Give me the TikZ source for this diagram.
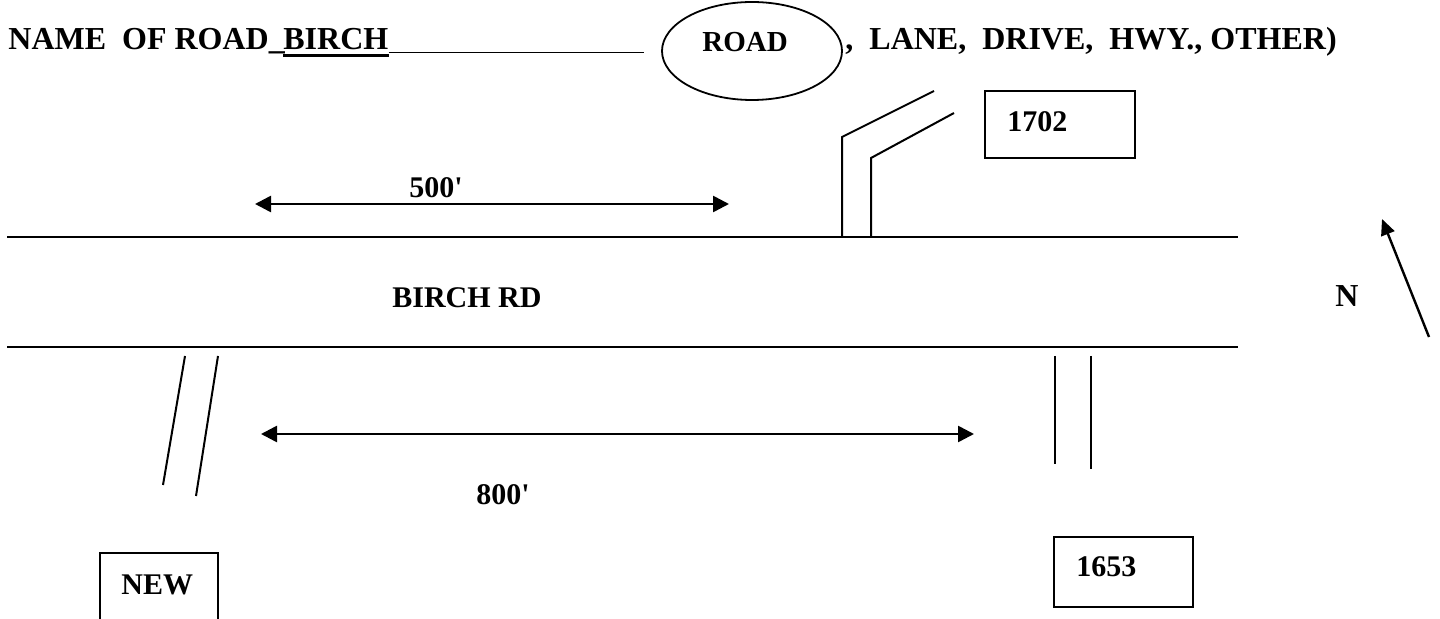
\documentclass[tikz,border=0pt]{standalone}
\usepackage{fontspec}
\setmainfont{Liberation Serif}
\usetikzlibrary{arrows.meta, shapes.geometric}

\begin{document}
\begin{tikzpicture}[x=0.5pt, y=-0.5pt,
    head/.style={font=\fontsize{16}{19}\selectfont\bfseries, inner sep=0pt, anchor=base west},
    lbl/.style={font=\fontsize{15}{18}\selectfont\bfseries, inner sep=0pt, anchor=base west},
    house/.style={rectangle, draw, line width=1.1pt},
    kind/.style={ellipse, draw, line width=0.9pt, minimum width=90pt, minimum height=49pt},
    edge/.style={line width=0.7pt},
    drive/.style={line width=1pt},
    dim/.style={{Triangle[length=8pt,width=8pt]}-{Triangle[length=8pt,width=8pt]}, line width=1.3pt},
    north/.style={-{Triangle[length=8pt,width=7pt]}, line width=1.2pt}
  ]
  \useasboundingbox (0,0) rectangle (1440,619);
  \clip (0,0) rectangle (1440,619);

  % Heading
  \node[head] (title) at (8,50) {NAME\ \ OF ROAD\_};
  \node[head] (birch) at (283,50) {BIRCH};
  \draw[line width=1.5pt] ([yshift=-2.6pt]birch.south west) -- ([yshift=-2.6pt]birch.south east);
  \coordinate (blank) at ([yshift=-1pt]birch.south east);
  \draw[line width=0.7pt] (blank) -- ++(255,0);
  \node[kind] (kind) at (752,51) {};
  \node[lbl, font=\fontsize{14.5}{17}\selectfont\bfseries] (roadtxt) at (702,52) {ROAD};
  \node[head] (others) at (845,50) {,\ \ LANE,\ \ DRIVE,\ \ HWY., OTHER)};

  % Road edges
  \draw[edge] (7,237) -- (1238,237);
  \draw[edge] (7,347) -- (1238,347);
  \node[lbl] (rdname) at (392,308) {BIRCH RD};

  % Driveway 1702
  \draw[drive] (842,237) -- (842,137) -- (934,91);
  \draw[drive] (871,237) -- (871,158) -- (954,113);
  \node[house, minimum width=75pt, minimum height=33.5pt] (h1702) at (1060,124.5) {};
  \node[lbl] at (1007,132) {1702};

  % Driveway NEW
  \draw[drive] (185,356) -- (163,485);
  \draw[drive] (218,356) -- (196,496);
  \node[house, minimum width=59pt, minimum height=43pt] (hnew) at (159,596) {};
  \node[lbl] at (121,595) {NEW};

  % Driveway 1653
  \draw[drive] (1055,356) -- (1055,464);
  \draw[drive] (1091,356) -- (1091,469);
  \node[house, minimum width=69.5pt, minimum height=35pt] (h1653) at (1123.5,572) {};
  \node[lbl] at (1076,577) {1653};

  % Distances
  \coordinate (d500w) at (255,204);
  \coordinate (d500e) at (729,204);
  \draw[dim] (d500w) -- (d500e);
  \node[lbl] (t500) at (409,198) {500\textquotesingle};
  \coordinate (d800w) at (261,434);
  \coordinate (d800e) at (974,434);
  \draw[dim] (d800w) -- (d800e);
  \node[lbl] (t800) at (476,505) {800\textquotesingle};

  % North
  \node[head] (ntxt) at (1335,307) {N};
  \coordinate (ntail) at (1429,337);
  \coordinate (ntip) at (1382,219);
  \draw[north] (ntail) -- (ntip);
\end{tikzpicture}
\end{document}
